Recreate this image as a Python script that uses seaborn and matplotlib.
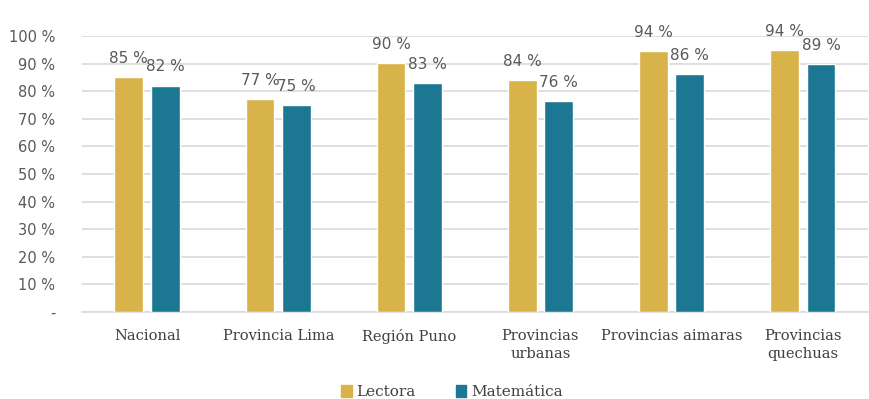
import pandas as pd
import matplotlib
matplotlib.use("Agg")
import matplotlib.pyplot as plt
import seaborn as sns

# data
categories = ["Nacional", "Provincia Lima", "Región Puno", "Provincias\nurbanas",
              "Provincias aimaras", "Provincias\nquechuas"]
lectora = [85.0, 77.0, 90.2, 84.0, 94.6, 94.9]
matematica = [82.0, 75.0, 83.0, 76.4, 86.2, 89.8]
lectora_labels = ["85 %", "77 %", "90 %", "84 %", "94 %", "94 %"]
matematica_labels = ["82 %", "75 %", "83 %", "76 %", "86 %", "89 %"]
series = ["Lectora", "Matemática"]
y_ticks = [0, 10, 20, 30, 40, 50, 60, 70, 80, 90, 100]
y_tick_labels = ["-"] + [f"{v} %" for v in y_ticks[1:]]

GOLD = "#D8B34A"
TEAL = "#1C7892"
GREY = "#595959"

df = pd.DataFrame({
    "categoria": categories * 2,
    "serie": [series[0]] * len(categories) + [series[1]] * len(categories),
    "valor": lectora + matematica,
})

sns.set_style("white")
plt.rcParams["font.family"] = ["DejaVu Sans"]

fig = plt.figure(figsize=(8.69, 3.99), dpi=100)
ax = fig.add_axes([0.094, 0.218, 0.905, 0.692])

sns.barplot(data=df, x="categoria", y="valor", hue="serie", order=categories,
            hue_order=series, palette=[GOLD, TEAL], width=0.56, gap=0.214,
            saturation=1, errorbar=None, ax=ax, zorder=3, legend=False)

# value labels above each bar
for container, labels in zip(ax.containers, [lectora_labels, matematica_labels]):
    ax.bar_label(container, labels=labels, padding=8, fontsize=11, color=GREY)

ax.set_ylim(0, 100)
ax.set_xlim(-0.5, 5.5)
ax.set_yticks(y_ticks)
ax.set_yticklabels(y_tick_labels, fontsize=10.5, color=GREY)
for lbl in ax.get_xticklabels():
    lbl.set_fontfamily("DejaVu Serif")
    lbl.set_linespacing(1.35)
ax.tick_params(axis="x", labelsize=10.5, colors="#404040", pad=12, length=0)
ax.tick_params(axis="y", length=0, pad=19)
ax.yaxis.grid(True, color="#D9D9D9", linewidth=1.2, zorder=0)
ax.set_axisbelow(True)
ax.set_xlabel("")
ax.set_ylabel("")
for s in ["top", "right", "left"]:
    ax.spines[s].set_visible(False)
ax.spines["bottom"].set_color("#D9D9D9")
ax.spines["bottom"].set_linewidth(1.2)

handles = [plt.Rectangle((0, 0), 1, 1, color=c) for c in [GOLD, TEAL]]
fig.legend(handles, series, loc="center", bbox_to_anchor=(0.52, 0.018), ncol=2,
           frameon=False, prop={"family": "DejaVu Serif", "size": 11},
           handlelength=0.7, handleheight=0.9,
           handletextpad=0.3, columnspacing=2.6, labelcolor="#404040")

fig.savefig("out.png", dpi=100)
